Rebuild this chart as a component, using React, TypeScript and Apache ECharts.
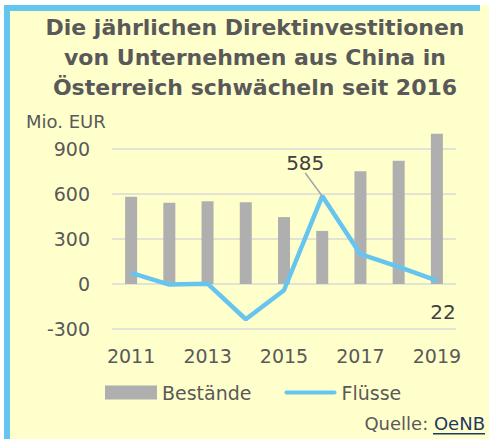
import React, { useEffect, useRef } from "react";
import * as echarts from "echarts";

const years = ["2011", "2012", "2013", "2014", "2015", "2016", "2017", "2018", "2019"];
const bestaende = [580, 540, 550, 543, 445, 353, 750, 820, 1000];
const fluesse = [73, -4, 2, -235, -42, 585, 198, 113, 22];
const yTicks = { min: -300, max: 1000, interval: 300 };

const FONT = "DejaVu Sans";
const TXT = "#595959";
const BLUE = "#66c5ee";

export default function App() {
  const ref = useRef<HTMLDivElement>(null);
  useEffect(() => {
    document.body.style.margin = "0";
    const chart = echarts.init(ref.current!, null, { renderer: "svg" });
    const last = fluesse.length - 1;
    const lineData = fluesse.map((v, i) => {
      if (i === 5)
        return {
          value: v,
          label: { show: true, position: "top", distance: 5 },
          labelLine: { show: true, lineStyle: { color: "#a6a6a6", width: 1.5 } },
        };
      if (i === last)
        return { value: v, label: { show: true, position: "bottom", distance: 5 } };
      return v;
    });
    chart.setOption({
      animation: false,
      backgroundColor: "#ffffcc",
      textStyle: { fontFamily: FONT },
      title: [
        {
          text: "Die jährlichen Direktinvestitionen\nvon Unternehmen aus China in\nÖsterreich schwächeln seit 2016",
          left: 250,
          top: 7,
          textAlign: "center",
          textStyle: { fontFamily: FONT, fontSize: 22, fontWeight: "bold", color: TXT, lineHeight: 30 },
        },
        {
          text: "Mio. EUR",
          left: 26,
          top: 112,
          padding: 0,
          textStyle: { fontFamily: FONT, fontSize: 18, fontWeight: "normal", color: TXT },
        },
        {
          text: "{a|Quelle: }{b|OeNB}",
          right: 4,
          top: 414,
          padding: 0,
          textStyle: {
            fontFamily: FONT,
            fontSize: 18,
            fontWeight: "normal",
            rich: {
              a: { fontFamily: FONT, fontSize: 18, color: TXT },
              b: { fontFamily: FONT, fontSize: 18, color: "#1f3864" },
            },
          },
        },
      ],
      graphic: [
        { type: "rect", shape: { x: 0, y: 0, width: 489, height: 5 }, style: { fill: "#ffffff" } },
        { type: "rect", shape: { x: 0, y: 0, width: 4, height: 439 }, style: { fill: "#ffffff" } },
        { type: "rect", shape: { x: 4, y: 5, width: 476, height: 6 }, style: { fill: BLUE } },
        { type: "rect", shape: { x: 4, y: 5, width: 6, height: 434 }, style: { fill: BLUE } },
        { type: "rect", shape: { x: 433, y: 433, width: 52, height: 1.5 }, style: { fill: "#1f3864" } },
      ],
      legend: {
        left: 105,
        top: 383,
        itemWidth: 52,
        itemHeight: 14,
        itemGap: 33,
        padding: 0,
        textStyle: { fontFamily: FONT, fontSize: 19, color: TXT },
        data: [
          { name: "Bestände", icon: "rect" },
          {
            name: "Flüsse",
            icon: "path://M2,0 L50,0 A2,2 0 0 1 50,4 L2,4 A2,2 0 0 1 2,0 Z",
          },
        ],
      },
      grid: { left: 112, right: 33, top: 133.7, bottom: 110 },
      xAxis: {
        type: "category",
        data: years,
        axisLine: { show: false },
        axisTick: { show: false },
        axisLabel: { interval: 1, fontFamily: FONT, fontSize: 19, color: TXT, margin: 17 },
      },
      yAxis: {
        type: "value",
        min: yTicks.min,
        max: yTicks.max,
        interval: yTicks.interval,
        axisLine: { show: false },
        axisTick: { show: false },
        splitLine: { show: true, showMaxLine: false, lineStyle: { color: "#d9d9d9", width: 1.5 } },
        axisLabel: { showMaxLabel: false, fontFamily: FONT, fontSize: 19, color: TXT, margin: 22 },
      },
      series: [
        {
          name: "Bestände",
          type: "bar",
          data: bestaende,
          barWidth: 12,
          itemStyle: { color: "#afafaf" },
        },
        {
          name: "Flüsse",
          type: "line",
          data: lineData,
          symbol: "circle",
          symbolSize: 0.1,
          showSymbol: true,
          lineStyle: { color: BLUE, width: 4.5 },
          itemStyle: { color: BLUE },
          label: { show: false, fontFamily: FONT, fontSize: 20, color: "#404040" },
          labelLayout: (p: any) =>
            p.dataIndex === 5 ? { dx: -17, dy: -18 } : p.dataIndex === last ? { dx: 6, dy: 16 } : {},
          z: 3,
        },
      ],
    });
    return () => chart.dispose();
  }, []);
  return <div ref={ref} style={{ width: 489, height: 439, position: "fixed", left: 0, top: 0, background: "#fff" }} />;
}
